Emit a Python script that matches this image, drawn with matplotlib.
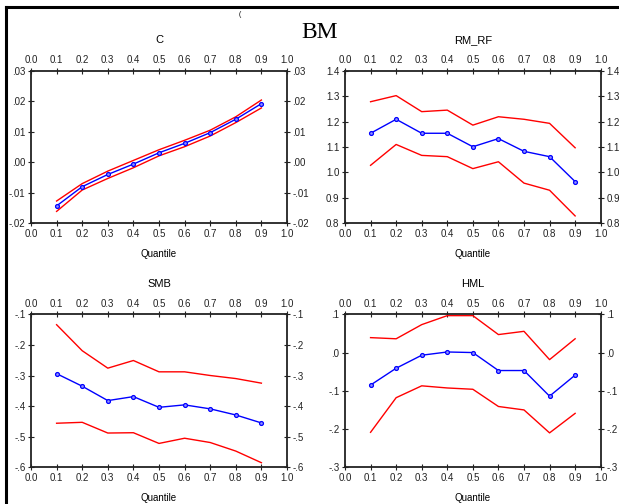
import matplotlib
matplotlib.use('Agg')
from matplotlib import pyplot as plt
from matplotlib.lines import Line2D
from matplotlib.ticker import FuncFormatter

plt.rcParams['font.family'] = ['Liberation Sans', 'DejaVu Sans']

quantiles = [0.1, 0.2, 0.3, 0.4, 0.5, 0.6, 0.7, 0.8, 0.9]

c_est = [-0.0143, -0.0080, -0.0040, -0.0006, 0.0031, 0.0062, 0.0097, 0.0141, 0.0192]
c_hi = [-0.0127, -0.0070, -0.0029, 0.0006, 0.0041, 0.0072, 0.0105, 0.0149, 0.0204]
c_lo = [-0.0161, -0.0091, -0.0053, -0.0018, 0.0021, 0.0051, 0.0086, 0.0130, 0.0178]

mkt_est = [1.154, 1.209, 1.154, 1.154, 1.101, 1.133, 1.083, 1.062, 0.964]
mkt_hi = [1.278, 1.302, 1.239, 1.245, 1.186, 1.219, 1.209, 1.193, 1.097]
mkt_lo = [1.028, 1.110, 1.067, 1.062, 1.015, 1.042, 0.958, 0.930, 0.829]

smb_est = [-0.294, -0.335, -0.382, -0.369, -0.404, -0.396, -0.409, -0.429, -0.455]
smb_hi = [-0.134, -0.219, -0.276, -0.251, -0.288, -0.288, -0.300, -0.310, -0.325]
smb_lo = [-0.456, -0.453, -0.488, -0.487, -0.522, -0.505, -0.519, -0.547, -0.585]

hml_est = [-0.085, -0.041, -0.007, 0.0015, 0.000, -0.047, -0.047, -0.114, -0.059]
hml_hi = [0.039, 0.036, 0.073, 0.0965, 0.0965, 0.047, 0.0555, -0.0185, 0.036]
hml_lo = [-0.2085, -0.118, -0.087, -0.0926, -0.096, -0.141, -0.150, -0.210, -0.159]

x_ticks = [0.0, 0.1, 0.2, 0.3, 0.4, 0.5, 0.6, 0.7, 0.8, 0.9, 1.0]

# title, estimate, upper, lower, ylim, yticks, decimals, strip leading zero
panels = [
    ('C', c_est, c_hi, c_lo, (-0.02, 0.03),
     [-0.02, -0.01, 0.0, 0.01, 0.02, 0.03], 2, True),
    ('RM_RF', mkt_est, mkt_hi, mkt_lo, (0.8, 1.4),
     [0.8, 0.9, 1.0, 1.1, 1.2, 1.3, 1.4], 1, False),
    ('SMB', smb_est, smb_hi, smb_lo, (-0.6, -0.1),
     [-0.6, -0.5, -0.4, -0.3, -0.2, -0.1], 1, True),
    ('HML', hml_est, hml_hi, hml_lo, (-0.3, 0.1),
     [-0.3, -0.2, -0.1, 0.0, 0.1], 1, True),
]

W, H = 619, 504
boxes = [(31, 70.7, 287, 223.3), (345, 70.7, 600.7, 223.3),
         (31, 314.3, 287, 467.3), (345, 314.3, 600.7, 467.3)]


def make_fmt(dec, strip):
    def f(v, pos):
        s = '%.*f' % (dec, v)
        if s.startswith('-') and float(s) == 0:
            s = s[1:]
        if strip:
            s = s.replace('-0.', '-.')
            if s.startswith('0.'):
                s = s[1:]
        return s
    return FuncFormatter(f)


fig = plt.figure(figsize=(W / 100, H / 100), dpi=100)

for (title, est, hi, lo, ylim, yticks, dec, strip), (x0, y0, x1, y1) in zip(panels, boxes):
    ax = fig.add_axes([x0 / W, 1 - y1 / H, (x1 - x0) / W, (y1 - y0) / H])
    ax.plot(quantiles, hi, color='#ff0000', lw=1)
    ax.plot(quantiles, lo, color='#ff0000', lw=1)
    ax.plot(quantiles, est, color='#0000ff', lw=1, marker='o', ms=2.8,
            mfc='#9090ff', mec='#0000ff', mew=0.9)
    ax.set_xlim(0, 1)
    ax.set_ylim(*ylim)
    ax.set_xticks(x_ticks)
    ax.set_xticklabels(['%.1f' % t for t in x_ticks])
    ax.set_yticks(yticks)
    ax.yaxis.set_major_formatter(make_fmt(dec, strip))
    ax.tick_params(direction='inout', length=4, width=0.8, labelsize=7,
                   colors='#222222', pad=2,
                   top=True, right=True, labeltop=True, labelright=True)
    for sp in ax.spines.values():
        sp.set_linewidth(1.3)
        sp.set_color('#222222')
    ax.set_xlabel('Quantile', fontsize=7, labelpad=7)
    ax.set_title(title, fontsize=8, pad=20)

# frame lines and header text
fig.add_artist(Line2D([6 / W, 1], [1 - 7 / H, 1 - 7 / H], color='black', lw=2.2))
fig.add_artist(Line2D([6 / W, 6 / W], [0, 1 - 7 / H], color='black', lw=2.2))
fig.text(240 / W, 1 - 15 / H, '(', fontsize=5, ha='center', va='center')
fig.text(320 / W, 1 - 32 / H, 'BM', fontsize=17, ha='center', va='center',
         family='Liberation Serif')

fig.savefig('out.png', dpi=100)
